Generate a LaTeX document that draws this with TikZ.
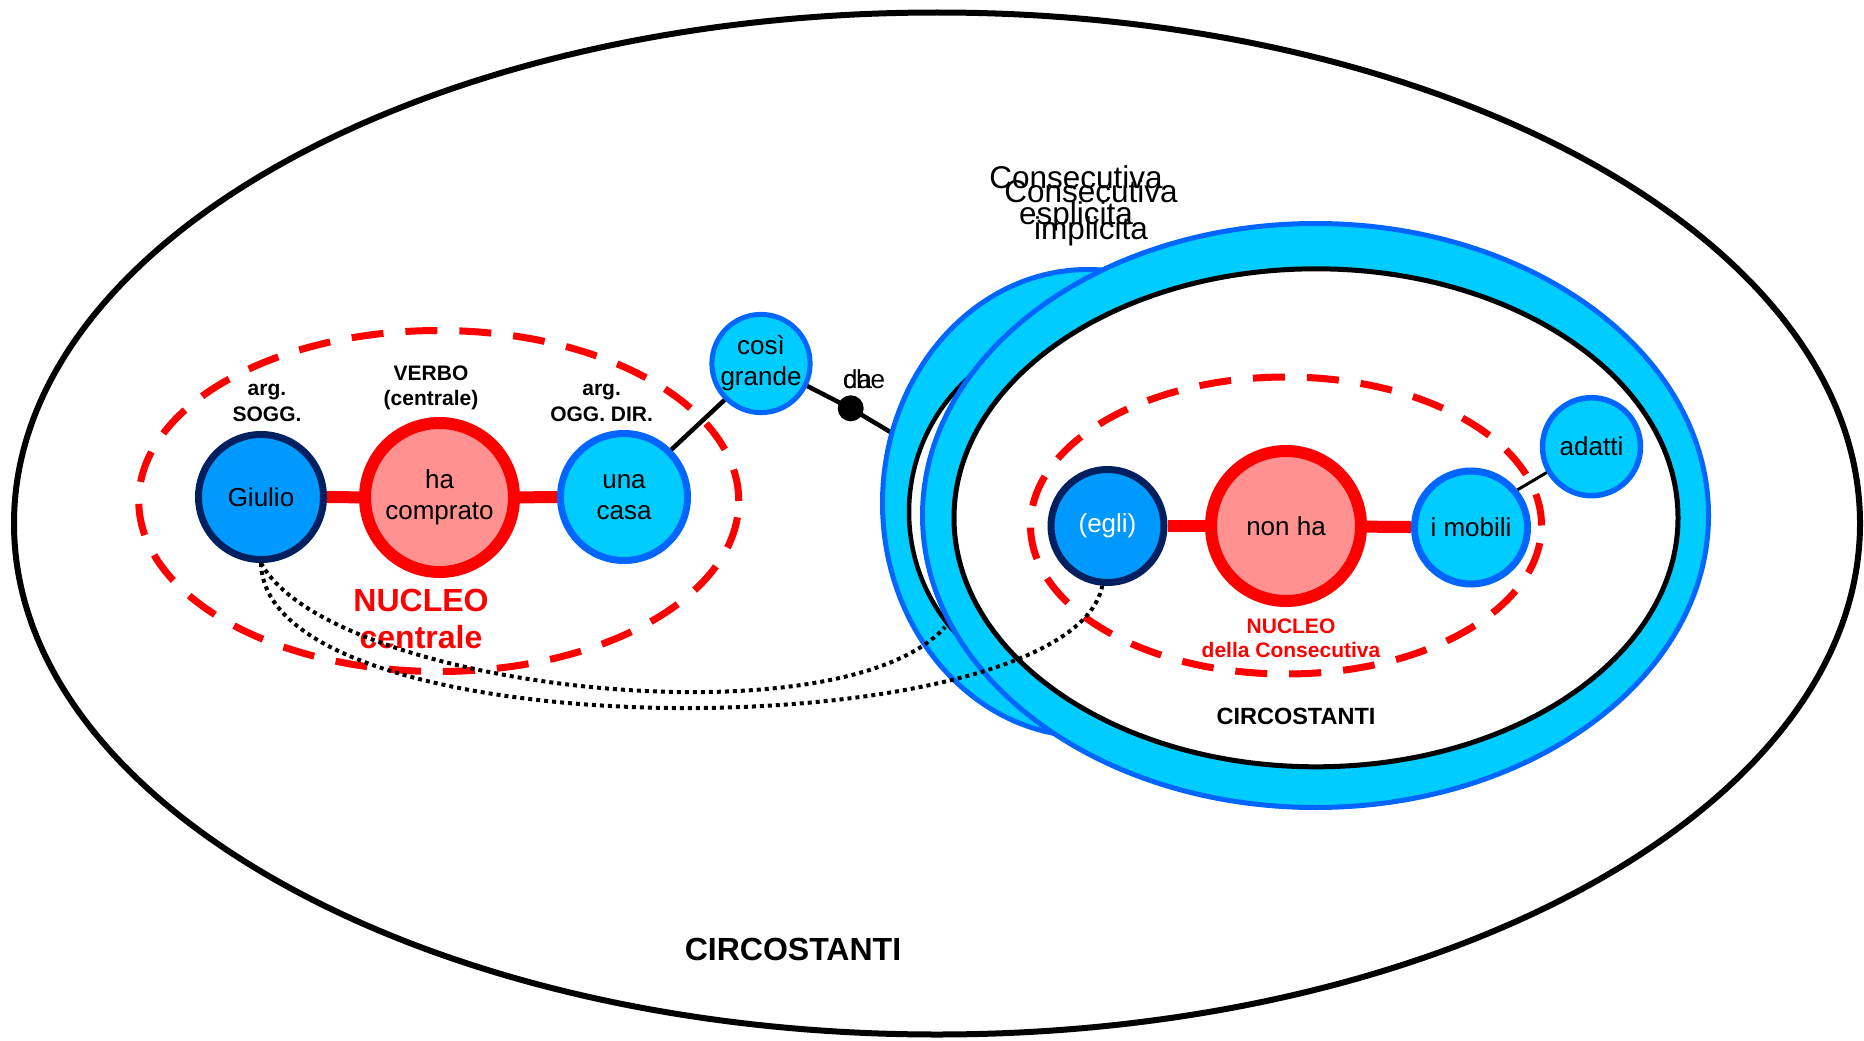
\documentclass[tikz,border=0pt]{standalone}
\usepackage{fontspec}
\setmainfont{Liberation Sans}
\definecolor{cyanc}{RGB}{0,204,255}
\definecolor{blueb}{RGB}{0,102,255}
\definecolor{subjfill}{RGB}{0,153,255}
\definecolor{navyb}{RGB}{0,32,96}
\definecolor{salmonf}{RGB}{255,145,145}
\definecolor{redc}{RGB}{255,0,0}
\newcommand\ndfont{\fontsize{26}{31}\selectfont}
\begin{document}
\begin{tikzpicture}[x=1pt,y=-1pt,
  basenode/.style={circle,inner sep=0pt,align=center,font=\ndfont},
  subjnode/.style={basenode,draw=navyb,fill=subjfill,line width=7pt},
  verbnode/.style={basenode,draw=redc,fill=salmonf,line width=12pt},
  objnode/.style={basenode,draw=blueb,fill=cyanc,line width=7pt},
  smallnode/.style={basenode,draw=blueb,fill=cyanc,line width=5pt,minimum size=98pt},
  redbar/.style={draw=redc,line width=12pt},
  conn/.style={draw=black,line width=4.5pt},
  thinconn/.style={draw=black,line width=3pt},
  nucleus/.style={draw=redc,line width=7pt,dash pattern=on 32pt off 22pt},
  dotcurve/.style={draw=black,line width=4pt,dash pattern=on 4pt off 4pt},
  ringout/.style={draw=blueb,fill=cyanc,line width=5pt},
  ringin/.style={draw=black,fill=white,line width=5pt},
  lbl/.style={inner sep=0pt,align=center},
]
\useasboundingbox (0,0) rectangle (1864,1041);
\fill[white] (0,0) rectangle (1864,1041);
\draw[line width=6pt,fill=white] (937,523.5) ellipse [x radius=923pt,y radius=511pt];

% left nucleus
\draw[nucleus] (438.75,501) ellipse [x radius=300pt,y radius=170.5pt];
\node[subjnode,minimum size=125pt] (giulio) at (261,497) {Giulio};
\node[verbnode,minimum size=149pt] (ha) at (439.5,497.5) {ha\\comprato};
\node[objnode,minimum size=127pt] (una) at (624,497) {una\\casa};
\draw[redbar] (giulio) -- (ha);
\draw[redbar] (ha) -- (una);
\node[lbl,font=\bfseries\fontsize{21}{26}\selectfont] (lsogg) at (267,402.8) {\strut arg.\\\strut SOGG.};
\node[lbl,font=\bfseries\fontsize{21}{25}\selectfont] (lverbo) at (431,388.2) {\strut VERBO\\\strut (centrale)};
\node[lbl,font=\bfseries\fontsize{21}{26}\selectfont] (logg) at (601.6,402.8) {\strut arg.\\\strut OGG. DIR.};
\node[lbl,text=redc,font=\bfseries\fontsize{32}{36.6}\selectfont] (lnuc) at (421,622.7) {\strut NUCLEO\\\strut centrale};

% cosi grande
\node[smallnode] (cosi) at (761,363.5) {così\\grande};
\node[circle,fill=black,inner sep=0pt,minimum size=26pt] (dot) at (850.7,408.3) {};
\coordinate (ringend) at (892,433);
\draw[conn] (una.45) -- (cosi.225);
\draw[conn] (cosi.-26) -- (dot.center) -- (ringend);
\node[anchor=base west,inner sep=0pt,font=\ndfont] (che) at (843,388.3) {che};
\node[anchor=base west,inner sep=0pt,font=\ndfont] (da) at (843,388.3) {da};

% rings
\draw[ringout] (1088,503) ellipse [x radius=205.5pt,y radius=233.5pt];
\draw[ringin,line width=4.5pt] (1088,512) ellipse [x radius=179pt,y radius=180pt];
\draw[ringout] (1315.5,515.5) ellipse [x radius=393pt,y radius=292pt];
\draw[ringin] (1316,517.8) ellipse [x radius=362pt,y radius=249pt];

% right nucleus
\draw[nucleus] (1286,525.5) ellipse [x radius=255.5pt,y radius=148.5pt];
\node[subjnode,minimum size=113pt,text=white] (egli) at (1107.5,526) {(egli)};
\node[verbnode,minimum size=150pt] (nonha) at (1286,526) {non ha};
\node[objnode,minimum size=113pt] (imob) at (1471,527.5) {i mobili};
\node[smallnode,line width=5.5pt] (adatti) at (1591.5,446.7) {adatti};
\draw[redbar] (egli) -- (nonha);
\draw[redbar] (nonha) -- (imob);
\draw[thinconn] (imob.39) -- (adatti.210);
\node[lbl,text=redc,font=\bfseries\fontsize{21}{24}\selectfont] (lnuc2) at (1291,640.5) {\strut NUCLEO\\\strut della Consecutiva};
\node[anchor=base,font=\bfseries\fontsize{23.5}{28}\selectfont] (circ2) at (1296,724) {CIRCOSTANTI};

% dotted links
\coordinate (ghost) at (945,627);
\draw[dotcurve] (giulio.south) .. controls (330,690) and (840,745) .. (ghost);
\draw[dotcurve] (giulio.south) .. controls (265,755) and (1070,750) .. (egli.265);

% labels
\node[lbl,font=\fontsize{31.5}{36.7}\selectfont] (cesp) at (1076,199.3) {\strut Consecutiva\\\strut esplicita};
\node[lbl,font=\fontsize{31.5}{36.7}\selectfont] (cimp) at (1091,213.7) {\strut Consecutiva\\\strut implicita};
\node[anchor=base,font=\bfseries\fontsize{32}{38}\selectfont] (circ1) at (793,960.7) {CIRCOSTANTI};
\end{tikzpicture}
\end{document}
